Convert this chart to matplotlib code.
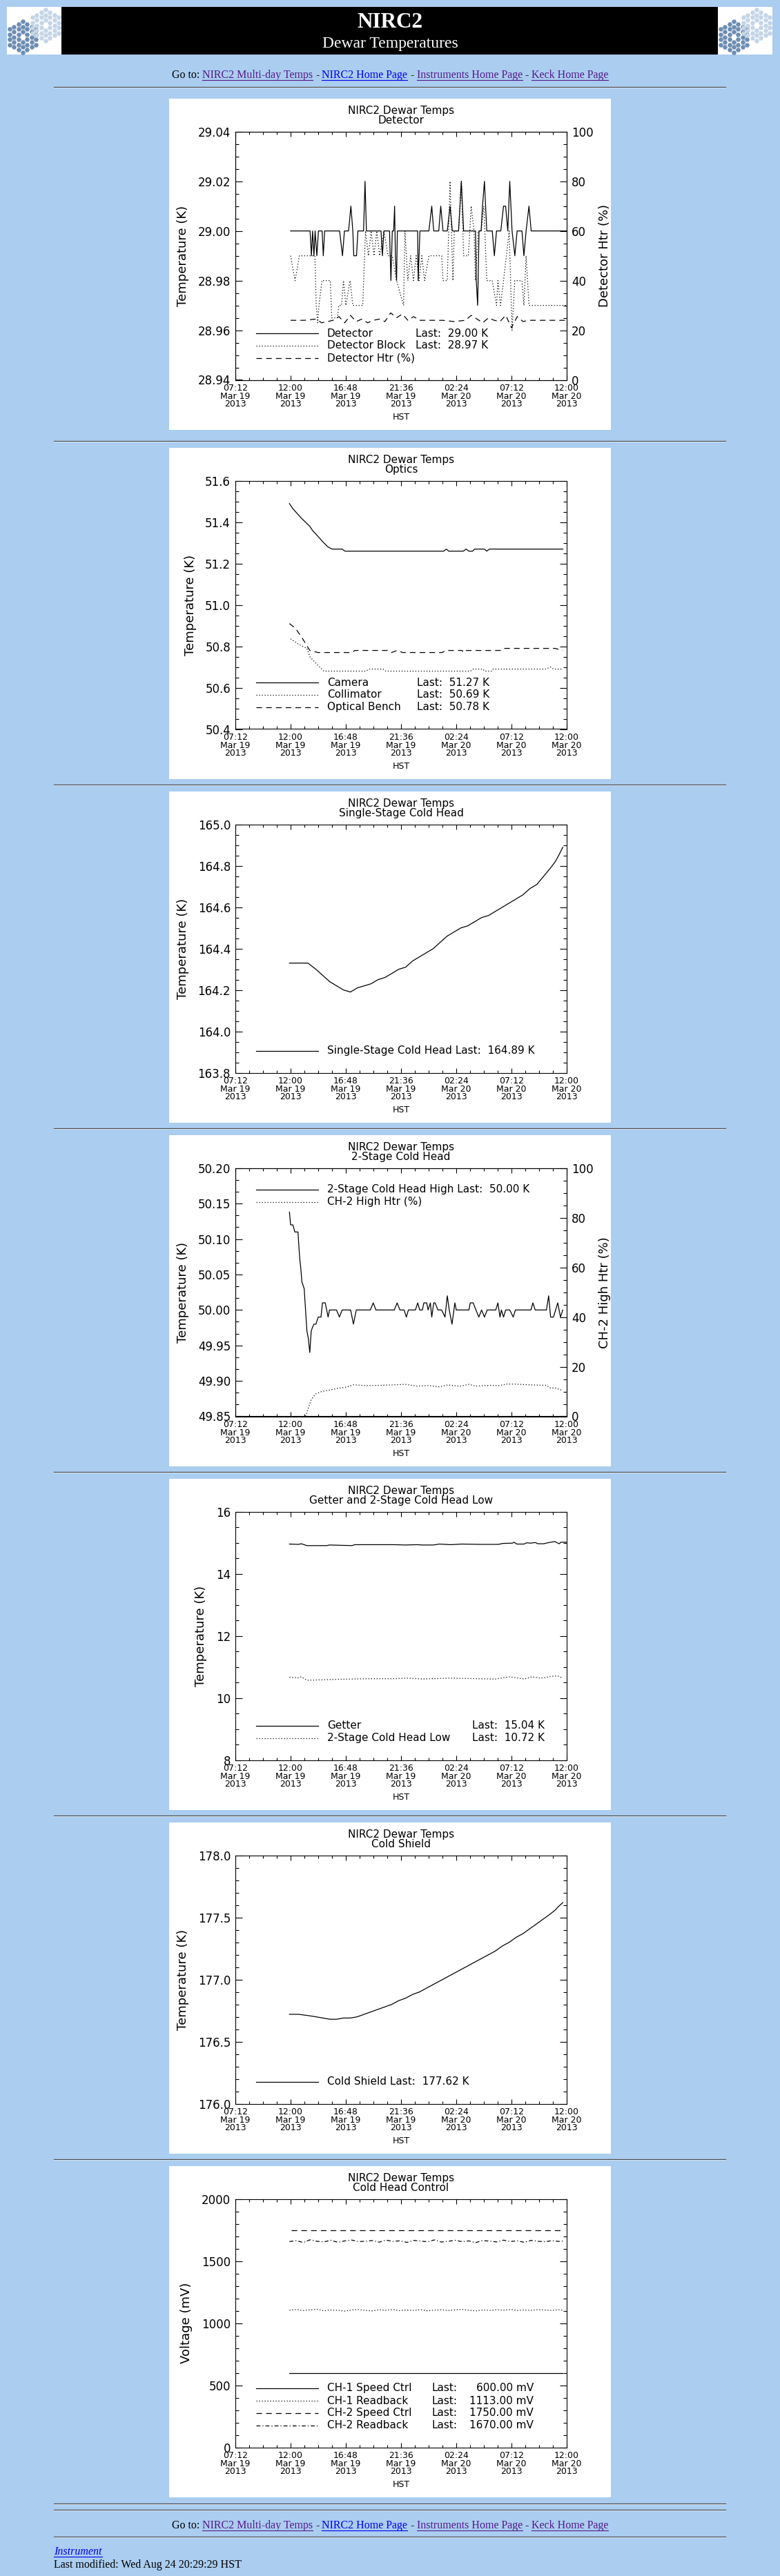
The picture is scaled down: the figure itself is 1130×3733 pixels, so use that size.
import numpy as np
import matplotlib
matplotlib.use("Agg")
import matplotlib.pyplot as plt
from matplotlib.patches import Rectangle
from matplotlib.lines import Line2D
from matplotlib.ticker import FixedLocator, MultipleLocator

plt.rcParams['font.family'] = ['DejaVu Sans']

W, H = 1130, 3733
BG = '#aacdf0'
SERIF = ['Liberation Serif', 'DejaVu Serif']
PURPLE = '#551a8b'
BLUE = '#0000ee'

# ---------------- data (hours after 07:12 Mar 19 2013 HST) ----------------
hour_ticks = [0, 4.8, 9.6, 14.4, 19.2, 24.0, 28.8]
time_labels = ['07:12\nMar 19\n2013', '12:00\nMar 19\n2013', '16:48\nMar 19\n2013',
               '21:36\nMar 19\n2013', '02:24\nMar 20\n2013', '07:12\nMar 20\n2013',
               '12:00\nMar 20\n2013']
pct_ticks = [0, 20, 40, 60, 80, 100]
pct_labels = ['0', '20', '40', '60', '80', '100']

# panel 1: detector
det_temp = [(4.80, 29.00), (6.49, 29.00), (6.61, 28.99), (6.71, 29.00), (6.83, 28.99), (6.93, 29.00),
            (7.08, 28.99), (7.22, 29.00), (7.54, 29.00), (7.64, 28.99), (7.76, 29.00), (9.06, 29.00),
            (9.31, 28.99), (9.48, 29.00), (9.84, 29.00), (10.04, 29.01), (10.21, 29.00), (10.29, 28.99),
            (10.53, 28.99), (10.65, 29.00), (11.14, 29.00), (11.27, 29.02), (11.39, 29.00), (12.66, 29.00),
            (12.78, 28.99), (12.91, 29.00), (13.40, 29.00), (13.52, 28.98), (13.64, 29.00), (13.76, 29.00),
            (13.84, 29.01), (13.91, 28.99), (14.01, 28.98), (14.08, 29.00), (15.84, 29.00), (15.89, 28.98),
            (16.04, 29.00), (16.82, 29.00), (17.07, 29.01), (17.24, 29.00), (17.68, 29.00), (17.85, 29.01),
            (18.05, 29.00), (18.42, 29.00), (18.66, 29.01), (18.86, 29.00), (19.40, 29.00), (19.64, 29.02),
            (19.84, 29.00), (20.87, 29.00), (20.94, 28.98), (21.06, 28.97), (21.18, 29.00), (21.36, 29.00),
            (21.48, 29.01), (21.65, 29.02), (21.85, 29.00), (22.33, 29.00), (22.51, 28.99), (22.70, 29.00),
            (23.07, 29.00), (23.31, 29.01), (23.49, 29.01), (23.68, 29.00), (23.85, 29.02), (24.05, 29.00),
            (24.29, 28.99), (24.49, 29.00), (24.91, 29.00), (25.08, 28.99), (25.27, 29.00), (25.52, 29.01),
            (25.71, 29.00), (28.80, 29.00)]
det_block = [(4.80, 28.99), (5.19, 28.98), (5.56, 28.99), (6.91, 28.99), (7.03, 28.97), (7.15, 28.963),
             (7.27, 28.97), (7.52, 28.98), (8.25, 28.98), (8.38, 28.965), (8.87, 28.965), (8.99, 28.97),
             (9.23, 28.97), (9.40, 28.98), (9.60, 28.97), (9.97, 28.98), (10.21, 28.97), (11.07, 28.97),
             (11.31, 29.00), (11.56, 28.99), (11.80, 29.00), (12.05, 28.99), (12.29, 29.00), (12.54, 28.99),
             (12.91, 29.00), (13.27, 28.99), (13.64, 28.99), (14.01, 28.98), (14.62, 28.97), (14.74, 29.00),
             (14.99, 28.98), (15.23, 28.99), (15.48, 28.98), (15.72, 28.99), (15.97, 28.98), (16.20, 28.99),
             (16.45, 28.98), (16.82, 28.99), (17.93, 28.99), (18.05, 28.98), (18.42, 28.98), (18.66, 29.02),
             (18.91, 28.98), (19.03, 29.00), (19.40, 29.00), (19.64, 29.02), (19.84, 28.99), (20.25, 28.99),
             (20.50, 29.01), (20.74, 29.00), (20.87, 28.98), (21.10, 29.00), (21.36, 29.00), (21.60, 29.01),
             (21.85, 28.98), (22.33, 28.98), (22.70, 28.97), (22.82, 28.98), (23.05, 28.97), (23.31, 28.98),
             (23.80, 29.00), (24.05, 28.96), (24.29, 28.98), (24.91, 28.98), (25.08, 28.97), (25.27, 28.99),
             (25.52, 28.97), (28.80, 28.97)]
det_htr = [(4.8, 24), (6.0, 24), (7.0, 24.5), (7.5, 23), (8.0, 23.5), (8.5, 24), (9.0, 25.5), (9.5, 23),
           (10.0, 26), (10.5, 23.5), (11.0, 24.5), (11.5, 23), (12.0, 24), (12.5, 24.5), (13.0, 23.5),
           (13.5, 27), (14.0, 25), (14.5, 26.5), (15.0, 24), (15.5, 25.5), (16.0, 24), (17.0, 24),
           (18.0, 24), (19.0, 23.5), (20.0, 24), (20.5, 26), (21.0, 24.5), (21.5, 23), (22.0, 25),
           (22.5, 24), (23.0, 23.5), (23.5, 26), (24.0, 21), (24.5, 25.5), (25.0, 23.5), (25.5, 24),
           (26.0, 24), (27.0, 24), (28.8, 24)]

# panel 2: optics
camera = [(4.70, 51.49), (5.00, 51.465), (5.73, 51.42), (6.47, 51.38), (6.71, 51.36), (7.20, 51.33),
          (7.69, 51.30), (8.06, 51.28), (8.42, 51.27), (9.28, 51.27), (9.53, 51.26), (18.10, 51.26),
          (18.34, 51.27), (18.54, 51.26), (19.81, 51.26), (20.06, 51.27), (20.30, 51.26), (20.62, 51.26),
          (20.79, 51.27), (21.65, 51.27), (21.85, 51.26), (22.07, 51.27), (28.46, 51.27)]
collimator = [(4.80, 50.836), (5.49, 50.81), (6.22, 50.79), (6.47, 50.75), (6.96, 50.72), (7.69, 50.68),
              (11.36, 50.68), (11.61, 50.69), (12.83, 50.69), (13.08, 50.68), (20.43, 50.68), (20.67, 50.69),
              (21.53, 50.69), (21.65, 50.68), (22.29, 50.68), (22.41, 50.69), (27.00, 50.69), (27.39, 50.70),
              (27.64, 50.69), (28.46, 50.69)]
bench = [(4.70, 50.91), (5.24, 50.886), (5.85, 50.836), (6.47, 50.78), (7.20, 50.77), (10.14, 50.77),
         (10.38, 50.78), (13.32, 50.78), (13.57, 50.77), (14.06, 50.78), (14.55, 50.77), (18.00, 50.77),
         (18.25, 50.78), (19.71, 50.78), (19.83, 50.77), (20.06, 50.78), (23.12, 50.78), (23.37, 50.79),
         (27.78, 50.79), (28.15, 50.785), (28.46, 50.78)]

# panel 3: single-stage cold head
single_hours = [4.7, 5.5, 6.3, 7.0, 7.6, 8.2, 8.8, 9.4, 10.0, 10.6, 11.2, 11.8, 12.4, 13.0, 13.6, 14.2,
                14.8, 15.4, 16.0, 16.6, 17.2, 17.8, 18.4, 19.0, 19.6, 20.2, 20.8, 21.4, 22.0, 22.6, 23.2,
                23.8, 24.4, 25.0, 25.6, 26.2, 26.8, 27.4, 27.8, 28.1, 28.46]
single_temp = [164.33, 164.33, 164.33, 164.30, 164.27, 164.24, 164.22, 164.20, 164.19, 164.21, 164.22,
               164.23, 164.25, 164.26, 164.28, 164.30, 164.31, 164.34, 164.36, 164.38, 164.40, 164.43,
               164.46, 164.48, 164.50, 164.51, 164.53, 164.55, 164.56, 164.58, 164.60, 164.62, 164.64,
               164.66, 164.69, 164.71, 164.75, 164.79, 164.82, 164.85, 164.89]

# panel 4: 2-stage cold head
ch2_high = [(4.70, 50.138), (4.80, 50.12), (5.00, 50.12), (5.17, 50.11), (5.44, 50.11), (5.53, 50.087),
            (5.61, 50.07), (5.68, 50.06), (5.78, 50.04), (5.98, 50.03), (6.10, 50.00), (6.22, 49.97),
            (6.34, 49.96), (6.47, 49.94), (6.59, 49.97), (6.71, 49.976), (6.83, 49.98), (7.00, 49.98),
            (7.20, 49.99), (7.44, 49.99), (7.57, 50.01), (7.81, 50.01), (8.06, 49.99), (8.18, 50.00),
            (8.79, 50.00), (9.04, 49.99), (9.28, 50.00), (10.02, 50.00), (10.26, 49.98), (10.51, 50.00),
            (11.73, 50.00), (11.98, 50.01), (12.22, 50.00), (13.81, 50.00), (14.06, 50.01), (14.30, 50.00),
            (14.67, 50.00), (14.86, 49.99), (15.04, 50.00), (15.65, 50.00), (15.85, 50.01), (16.02, 50.00),
            (16.26, 50.00), (16.38, 50.01), (16.63, 50.01), (16.75, 50.00), (16.95, 50.01), (17.07, 49.99),
            (17.24, 50.01), (17.36, 50.01), (17.61, 50.00), (17.93, 50.00), (18.22, 49.99), (18.42, 50.02),
            (18.59, 50.00), (18.83, 49.98), (19.08, 50.01), (19.20, 50.00), (20.30, 50.00), (20.42, 50.01),
            (20.67, 50.01), (20.91, 50.00), (21.16, 49.99), (21.40, 50.00), (21.65, 49.99), (21.89, 50.00),
            (22.63, 50.00), (22.82, 50.01), (23.00, 49.99), (23.12, 50.00), (23.31, 49.99), (23.49, 50.00),
            (23.85, 50.00), (24.15, 49.99), (24.34, 50.00), (25.69, 50.00), (25.86, 50.01), (26.06, 50.00),
            (27.04, 50.00), (27.23, 50.02), (27.40, 49.99), (27.65, 49.99), (28.02, 50.01), (28.26, 49.99),
            (28.46, 50.00)]
ch2_htr = [(6.10, 0.0), (6.34, 3.4), (6.59, 6.7), (6.96, 9.0), (7.44, 9.9), (8.18, 10.6), (8.91, 11.3),
           (9.65, 11.8), (10.26, 12.7), (11.36, 12.4), (12.59, 12.5), (13.81, 12.7), (14.79, 12.9),
           (15.77, 12.2), (16.75, 12.4), (17.73, 11.9), (18.47, 12.7), (19.45, 12.1), (20.30, 12.9),
           (20.91, 12.2), (22.14, 12.5), (22.87, 12.4), (23.61, 13.0), (24.34, 13.0), (25.57, 12.7),
           (27.04, 12.5), (27.40, 11.3), (27.77, 11.5), (28.46, 10.4)]

# panel 5: getter and 2-stage cold head low
getter = [(4.70, 14.96), (5.49, 14.95), (5.73, 14.97), (6.22, 14.91), (7.93, 14.91), (8.18, 14.93),
          (10.14, 14.91), (10.38, 14.94), (11.36, 14.94), (13.81, 14.94), (14.79, 14.93), (15.77, 14.94),
          (16.26, 14.93), (17.24, 14.93), (17.73, 14.96), (18.71, 14.94), (19.69, 14.96), (21.16, 14.95),
          (22.87, 14.95), (23.24, 14.98), (24.10, 14.99), (24.22, 15.02), (24.47, 14.96), (25.08, 14.96),
          (25.32, 15.00), (25.69, 14.99), (26.06, 15.01), (26.30, 14.97), (26.79, 14.97), (27.28, 15.01),
          (27.77, 15.04), (28.14, 14.97), (28.31, 15.02), (28.75, 15.02)]
ch2_low = [(4.70, 10.67), (5.49, 10.65), (5.73, 10.68), (6.22, 10.57), (8.90, 10.60), (11.40, 10.62),
           (13.80, 10.62), (15.00, 10.64), (16.26, 10.61), (18.70, 10.64), (21.16, 10.62), (22.63, 10.61),
           (23.10, 10.64), (23.85, 10.68), (24.60, 10.64), (25.10, 10.61), (25.80, 10.68), (26.50, 10.64),
           (27.00, 10.66), (27.50, 10.70), (28.00, 10.71), (28.46, 10.64)]

# panel 6: cold shield
shield_hours = single_hours
shield_temp = [176.72, 176.72, 176.71, 176.70, 176.69, 176.68, 176.68, 176.69, 176.69, 176.70, 176.72,
               176.74, 176.76, 176.78, 176.80, 176.83, 176.85, 176.88, 176.90, 176.93, 176.96, 176.99,
               177.02, 177.05, 177.08, 177.11, 177.14, 177.17, 177.20, 177.23, 177.27, 177.30, 177.34,
               177.37, 177.41, 177.45, 177.49, 177.53, 177.56, 177.59, 177.62]

# panel 7: cold head control (mV)
ctrl_hours = [4.7, 28.46]
ch1_ctrl = [600, 600]
ch2_ctrl_hours = [4.87, 28.46]
ch2_ctrl = [1750, 1750]
rb_hours = [4.7, 5.3, 5.9, 6.5, 7.1, 7.7, 8.3, 8.9, 9.5, 10.1, 10.7, 11.3, 11.9, 12.5, 13.1, 13.7, 14.3,
            14.9, 15.5, 16.1, 16.7, 17.3, 17.9, 18.5, 19.1, 19.7, 20.3, 20.9, 21.5, 22.1, 22.7, 23.3, 23.9,
            24.5, 25.1, 25.7, 26.3, 26.9, 27.5, 28.1, 28.46]
ch1_rb = [1105, 1110, 1102, 1108, 1112, 1100, 1106, 1104, 1098, 1107, 1110, 1103, 1099, 1108, 1104, 1110,
          1101, 1106, 1103, 1109, 1100, 1105, 1108, 1102, 1107, 1111, 1104, 1099, 1106, 1103, 1108, 1105,
          1110, 1102, 1107, 1104, 1109, 1106, 1103, 1108, 1105]
ch2_rb = [1658, 1665, 1650, 1672, 1660, 1655, 1668, 1652, 1663, 1670, 1657, 1661, 1666, 1653, 1669, 1659,
          1664, 1651, 1667, 1662, 1656, 1671, 1654, 1660, 1668, 1657, 1663, 1650, 1666, 1661, 1655, 1669,
          1658, 1664, 1652, 1667, 1660, 1656, 1665, 1659, 1662]

SOLID = '-'
DOT = (0, (1, 2.2))
DASH = (0, (6.5, 4.8))
DASHDOT = (0, (4.5, 2.5, 1, 2.5))

# ---------------- page ----------------
fig = plt.figure(figsize=(W / 100, H / 100), dpi=100)
fig.patch.set_facecolor(BG)


def fx(px):
    return px / W


def fy(py):
    return 1 - py / H


def rule(y, x0=78, x1=1051):
    fig.add_artist(Line2D([fx(x0), fx(x1)], [fy(y), fy(y)], transform=fig.transFigure,
                          color='#4a4a4a', lw=0.9))
    fig.add_artist(Line2D([fx(x0), fx(x1)], [fy(y + 1.3), fy(y + 1.3)], transform=fig.transFigure,
                          color='#dbe5ef', lw=0.7))


def logo(x0):
    lax = fig.add_axes([fx(x0), fy(79), 79 / W, 69 / H])
    lax.set_xlim(x0, x0 + 79)
    lax.set_ylim(79, 10)
    lax.set_facecolor('white')
    lax.set_xticks([])
    lax.set_yticks([])
    for s in lax.spines.values():
        s.set_visible(False)
    for cx, cy, col in [(x0 + 23, 53.5, '#6d8db3'), (x0 + 56, 36.5, '#c5d5e7')]:
        xs, ys = [], []
        for q in range(-3, 4):
            for r in range(-3, 4):
                if abs(q + r) > 3 or (q == 0 and r == 0):
                    continue
                xs.append(cx + 1.5 * q * 4.3)
                ys.append(cy + np.sqrt(3) * (r + q / 2) * 4.3)
        lax.scatter(xs, ys, marker='H', s=27, color=col, linewidths=0)


# header
logo(10)
logo(1040)
fig.add_artist(Rectangle((fx(89), fy(79)), 951 / W, 69 / H, transform=fig.transFigure,
                         facecolor='black', edgecolor='none'))
fig.text(fx(565), fy(32), 'NIRC2', color='white', family=SERIF, weight='bold', fontsize=22.5,
         ha='center', va='center')
fig.text(fx(565), fy(63), 'Dewar Temperatures', color='white', family=SERIF, fontsize=17,
         ha='center', va='center')

goto_parts = [('Go to:', 'black', False), ('NIRC2 Multi-day Temps', PURPLE, True), ('-', 'black', False),
              ('NIRC2 Home Page', BLUE, True), ('-', 'black', False),
              ('Instruments Home Page', PURPLE, True), ('-', 'black', False),
              ('Keck Home Page', PURPLE, True)]
renderer = fig.canvas.get_renderer()


def text_width(s, **kw):
    t = fig.text(0, 0, s, **kw)
    w = t.get_window_extent(renderer).width
    t.remove()
    return w


def goto_line(base_y, fs=11.5):
    kw = dict(fontsize=fs, family=SERIF)
    sp = text_width('a a', **kw) - text_width('aa', **kw)
    widths = [text_width(s, **kw) for s, _, _ in goto_parts]
    total = sum(widths) + sp * (len(widths) - 1)
    x = 565 - total / 2
    for (s, col, link), w in zip(goto_parts, widths):
        fig.text(fx(x), fy(base_y), s, color=col, ha='left', va='baseline', **kw)
        if link:
            fig.add_artist(Line2D([fx(x), fx(x + w)], [fy(base_y + 2.5)] * 2,
                                  transform=fig.transFigure, color=col, lw=0.8))
        x += w + sp


goto_line(113)
rule(126)


def make_panel(top, subtitle, ylim, yticks, ylabels, yminor, ylabel):
    pax = fig.add_axes([fx(245), fy(top + 480), 640 / W, 480 / H])
    pax.set_facecolor('white')
    pax.set_xticks([])
    pax.set_yticks([])
    for s in pax.spines.values():
        s.set_visible(False)
    ax = fig.add_axes([fx(341), fy(top + 407.5), 480 / W, 359.7 / H])
    ax.set_facecolor('none')
    ax.set_xlim(0, 28.8)
    ax.xaxis.set_major_locator(FixedLocator(hour_ticks))
    ax.set_xticklabels(time_labels, fontsize=9, linespacing=0.86)
    ax.xaxis.set_minor_locator(MultipleLocator(1.2))
    ax.set_ylim(*ylim)
    ax.yaxis.set_major_locator(FixedLocator(yticks))
    ax.set_yticklabels(ylabels, fontsize=12)
    ax.yaxis.set_minor_locator(MultipleLocator(yminor))
    ax.tick_params(which='both', direction='in', top=True, right=True, width=0.8)
    ax.tick_params(axis='x', which='major', length=5.2, pad=4)
    ax.tick_params(axis='x', which='minor', length=2.6)
    ax.tick_params(axis='y', which='major', length=6.9, pad=5)
    ax.tick_params(axis='y', which='minor', length=3.5)
    for s in ax.spines.values():
        s.set_linewidth(0.8)
    ax.set_ylabel(ylabel, fontsize=13, labelpad=9)
    ax.text(0.5, 1.084, 'NIRC2 Dewar Temps', transform=ax.transAxes, fontsize=11,
            ha='center', va='center')
    ax.text(0.5, 1.044, subtitle, transform=ax.transAxes, fontsize=11, ha='center', va='center')
    ax.text(0.5, -54 / 359.7, 'HST', transform=ax.transAxes, fontsize=9, ha='center', va='center')
    return pax, ax


def add_right(ax, pax, label):
    ax2 = ax.twinx()
    ax2.set_ylim(0, 100)
    ax2.yaxis.set_major_locator(FixedLocator(pct_ticks))
    ax2.set_yticklabels(pct_labels, fontsize=12)
    ax2.yaxis.set_minor_locator(MultipleLocator(5))
    ax2.tick_params(which='both', direction='in', width=0.8)
    ax2.tick_params(which='major', length=6.9, pad=5)
    ax2.tick_params(which='minor', length=3.5)
    ax2.set_ylabel(label, fontsize=13, labelpad=5)
    lab = ax2.yaxis.label
    lab.set_clip_box(pax.bbox)
    lab.set_clip_on(True)
    return ax2


def draw(ax, pts, style):
    xs, ys = zip(*pts)
    ax.plot(xs, ys, color='black', lw=0.9, ls=style)


def legend(ax, rows, ys, last_x=None, val_x=None):
    for (name, style, last), y in zip(rows, ys):
        ax.plot([0.0625, 0.25], [y, y], transform=ax.transAxes, color='black', lw=0.9, ls=style)
        ax.text(0.277, y, name, transform=ax.transAxes, fontsize=11, va='center')
        if last is None:
            continue
        if val_x is None:
            ax.text(last_x, y, 'Last:  ' + last, transform=ax.transAxes, fontsize=11, va='center')
        else:
            ax.text(last_x, y, 'Last:', transform=ax.transAxes, fontsize=11, va='center')
            ax.text(val_x, y, last, transform=ax.transAxes, fontsize=11, va='center', ha='right')


# panel 1
pax, ax = make_panel(143, 'Detector', (28.94, 29.04), [28.94, 28.96, 28.98, 29.00, 29.02, 29.04],
                     ['28.94', '28.96', '28.98', '29.00', '29.02', '29.04'], 0.005, 'Temperature (K)')
ax2 = add_right(ax, pax, 'Detector Htr (%)')
draw(ax, det_block, DOT)
draw(ax, det_temp, SOLID)
draw(ax2, det_htr, DASH)
legend(ax, [('Detector', SOLID, '29.00 K'), ('Detector Block', DOT, '28.97 K'),
            ('Detector Htr (%)', DASH, None)], [0.187, 0.138, 0.088], last_x=0.544)
rule(639)

# panel 2
pax, ax = make_panel(649, 'Optics', (50.4, 51.6), [50.4, 50.6, 50.8, 51.0, 51.2, 51.4, 51.6],
                     ['50.4', '50.6', '50.8', '51.0', '51.2', '51.4', '51.6'], 0.05, 'Temperature (K)')
draw(ax, camera, SOLID)
draw(ax, collimator, DOT)
draw(ax, bench, DASH)
legend(ax, [('Camera', SOLID, '51.27 K'), ('Collimator', DOT, '50.69 K'),
            ('Optical Bench', DASH, '50.78 K')], [0.187, 0.138, 0.088], last_x=0.548)
rule(1137)

# panel 3
pax, ax = make_panel(1147, 'Single-Stage Cold Head', (163.8, 165.0),
                     [163.8, 164.0, 164.2, 164.4, 164.6, 164.8, 165.0],
                     ['163.8', '164.0', '164.2', '164.4', '164.6', '164.8', '165.0'], 0.05,
                     'Temperature (K)')
ax.plot(single_hours, single_temp, color='black', lw=0.9)
legend(ax, [('Single-Stage Cold Head Last:  164.89 K', SOLID, None)], [0.088])
rule(1635)

# panel 4
pax, ax = make_panel(1645, '2-Stage Cold Head', (49.85, 50.20),
                     [49.85, 49.90, 49.95, 50.00, 50.05, 50.10, 50.15, 50.20],
                     ['49.85', '49.90', '49.95', '50.00', '50.05', '50.10', '50.15', '50.20'],
                     0.05 / 3, 'Temperature (K)')
ax2 = add_right(ax, pax, 'CH-2 High Htr (%)')
draw(ax, ch2_high, SOLID)
draw(ax2, ch2_htr, DOT)
legend(ax, [('2-Stage Cold Head High Last:  50.00 K', SOLID, None), ('CH-2 High Htr (%)', DOT, None)],
       [0.914, 0.864])
rule(2133)

# panel 5
pax, ax = make_panel(2143, 'Getter and 2-Stage Cold Head Low', (8, 16), [8, 10, 12, 14, 16],
                     ['8', '10', '12', '14', '16'], 0.5, 'Temperature (K)')
draw(ax, getter, SOLID)
draw(ax, ch2_low, DOT)
legend(ax, [('Getter', SOLID, '15.04 K'), ('2-Stage Cold Head Low', DOT, '10.72 K')],
       [0.138, 0.088], last_x=0.715)
rule(2631)

# panel 6
pax, ax = make_panel(2641, 'Cold Shield', (176.0, 178.0), [176.0, 176.5, 177.0, 177.5, 178.0],
                     ['176.0', '176.5', '177.0', '177.5', '178.0'], 0.1, 'Temperature (K)')
ax.plot(shield_hours, shield_temp, color='black', lw=0.9)
legend(ax, [('Cold Shield Last:  177.62 K', SOLID, None)], [0.088])
rule(3129)

# panel 7
pax, ax = make_panel(3139, 'Cold Head Control', (0, 2000), [0, 500, 1000, 1500, 2000],
                     ['0', '500', '1000', '1500', '2000'], 100, 'Voltage (mV)')
ax.plot(ctrl_hours, ch1_ctrl, color='black', lw=0.9, ls=SOLID)
ax.plot(rb_hours, ch1_rb, color='black', lw=0.9, ls=DOT)
ax.plot(ch2_ctrl_hours, ch2_ctrl, color='black', lw=0.9, ls=DASH)
ax.plot(rb_hours, ch2_rb, color='black', lw=0.9, ls=DASHDOT)
legend(ax, [('CH-1 Speed Ctrl', SOLID, '600.00 mV'), ('CH-1 Readback', DOT, '1113.00 mV'),
            ('CH-2 Speed Ctrl', DASH, '1750.00 mV'), ('CH-2 Readback', DASHDOT, '1670.00 mV')],
       [0.238, 0.187, 0.138, 0.088], last_x=0.592, val_x=0.90)

# footer
rule(3628)
rule(3637)
goto_line(3664)
rule(3676)
fig.text(fx(78), fy(3702), 'Instrument', color=BLUE, style='italic', family=SERIF, fontsize=11.5,
         va='baseline')
iw = text_width('Instrument', color=BLUE, style='italic', family=SERIF, fontsize=11.5)
fig.add_artist(Line2D([fx(78), fx(78 + iw)], [fy(3704.5)] * 2, transform=fig.transFigure,
                      color=BLUE, lw=0.8))
fig.text(fx(78), fy(3721), 'Last modified: Wed Aug 24 20:29:29 HST', color='black', family=SERIF,
         fontsize=11.5, va='baseline')

fig.savefig('out.png', dpi=100, facecolor=BG)
